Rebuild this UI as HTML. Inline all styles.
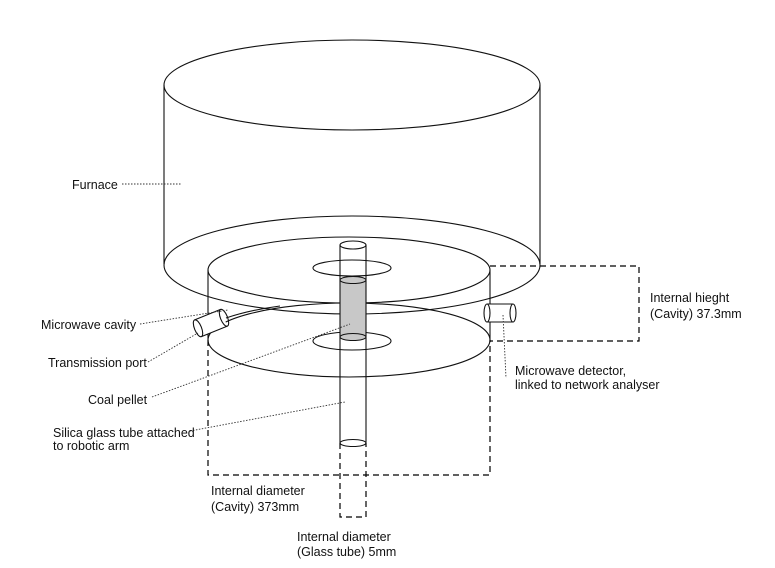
<!DOCTYPE html>
<html><head><style>
html,body{margin:0;padding:0;background:#fff;}
svg{display:block}
text{font-family:"Liberation Sans",Arial,sans-serif;font-size:12.5px;fill:#111}
</style></head><body>
<svg width="775" height="568" viewBox="0 0 775 568" xmlns="http://www.w3.org/2000/svg">
<g fill="none" stroke="#111" stroke-width="1.1">
<ellipse cx="352" cy="85" rx="188" ry="45"/>
<line x1="164" y1="85" x2="164" y2="264"/>
<line x1="540" y1="85" x2="540" y2="264"/>
<ellipse cx="352" cy="265" rx="188" ry="49"/>
<ellipse cx="349" cy="270" rx="141" ry="33"/>
<line x1="208" y1="270" x2="208" y2="340"/>
<line x1="490" y1="270" x2="490" y2="340"/>
<ellipse cx="349" cy="340" rx="141" ry="37"/>
<ellipse cx="352" cy="268" rx="39" ry="8"/>
<ellipse cx="352" cy="341" rx="39" ry="9"/>
<rect x="340" y="279" width="26" height="58" fill="#c8c8c8" stroke="none"/>
<line x1="340" y1="245" x2="340" y2="443"/>
<line x1="366" y1="245" x2="366" y2="443"/>
<ellipse cx="353" cy="245" rx="13" ry="4"/>
<ellipse cx="353" cy="280" rx="13" ry="3.5" fill="#c8c8c8"/>
<ellipse cx="353" cy="337" rx="13" ry="3.5" fill="#c8c8c8"/>
<ellipse cx="353" cy="443" rx="13" ry="3.5"/>
<g transform="translate(211,323) rotate(-22)">
<rect x="-14" y="-9" width="28" height="18" fill="#fff" stroke="none"/>
<line x1="-14" y1="-9" x2="14" y2="-9"/>
<line x1="-14" y1="9" x2="14" y2="9"/>
<ellipse cx="-14" cy="0" rx="3.5" ry="9"/>
<ellipse cx="14" cy="0" rx="3.5" ry="9"/>
</g>
<path d="M226 318 Q250 310 280 306"/>
<rect x="487" y="304" width="26" height="18" fill="#fff" stroke="none"/>
<line x1="487" y1="304" x2="513" y2="304"/>
<line x1="487" y1="322" x2="513" y2="322"/>
<ellipse cx="487" cy="313" rx="3" ry="9"/>
<ellipse cx="513" cy="313" rx="3" ry="9"/>
</g>
<g fill="none" stroke="#000" stroke-width="1.2" stroke-dasharray="6,4">
<polyline points="208,340 208,475 490,475 490,340"/>
<polyline points="340,443 340,517 366,517 366,443"/>
<polyline points="490,266 639,266 639,341 490,341"/>
</g>
<g fill="none" stroke="#333" stroke-width="0.9" stroke-dasharray="1.5,1.5">
<line x1="122" y1="184" x2="181" y2="184"/>
<line x1="140" y1="324" x2="228" y2="310"/>
<line x1="148" y1="362" x2="198" y2="333"/>
<line x1="152" y1="397" x2="350" y2="324"/>
<line x1="190" y1="431" x2="345" y2="402"/>
<line x1="503" y1="315" x2="506" y2="378"/>
</g>
<text x="72" y="189">Furnace</text>
<text x="41" y="329">Microwave cavity</text>
<text x="48" y="367">Transmission port</text>
<text x="88" y="404">Coal pellet</text>
<text x="53" y="437">Silica glass tube attached</text>
<text x="53" y="450">to robotic arm</text>
<text x="650" y="302">Internal hieght</text>
<text x="650" y="318">(Cavity) 37.3mm</text>
<text x="515" y="375">Microwave detector,</text>
<text x="515" y="389">linked to network analyser</text>
<text x="211" y="495">Internal diameter</text>
<text x="211" y="511">(Cavity) 373mm</text>
<text x="297" y="541">Internal diameter</text>
<text x="297" y="556">(Glass tube) 5mm</text>
</svg>
</body></html>
